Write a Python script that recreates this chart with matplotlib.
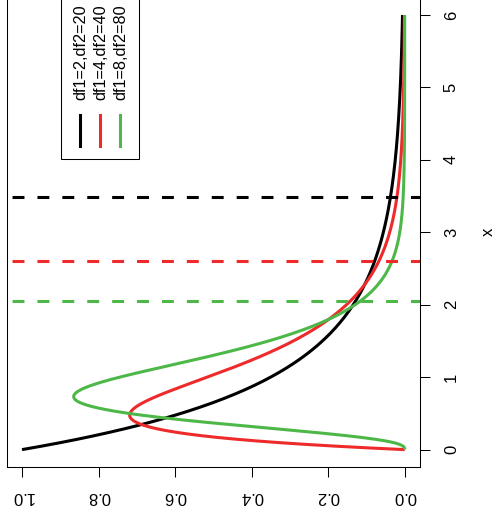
import math
import numpy as np
import matplotlib
matplotlib.use("Agg")
import matplotlib.pyplot as plt
from matplotlib.patches import Rectangle
from matplotlib.lines import Line2D

plt.rcParams["font.family"] = ["Liberation Sans", "DejaVu Sans"]

# F distributions shown (df1, df2), colours and their 95% quantiles
df1_vals = [2, 4, 8]
df2_vals = [20, 40, 80]
colores = ["#000000", "#EE2A2A", "#4DB848"]
etiquetas = ["df1=2,df2=20", "df1=4,df2=40", "df1=8,df2=80"]
cuantiles_95 = [3.4928, 2.6060, 2.0556]

x_ticks = [0, 1, 2, 3, 4, 5, 6]
dens_ticks = [0.0, 0.2, 0.4, 0.6, 0.8, 1.0]

x = np.linspace(0, 6, 501)


def densidad_f(x, d1, d2):
    logc = (math.lgamma((d1 + d2) / 2) - math.lgamma(d1 / 2) - math.lgamma(d2 / 2)
            + (d1 / 2) * math.log(d1 / d2))
    return math.exp(logc) * np.power(x, d1 / 2 - 1) * np.power(1 + d1 * x / d2, -(d1 + d2) / 2)


fig = plt.figure(figsize=(4.94, 5.18), dpi=100)
W, H = 494, 518
izq, der, arr, aba = 6.7, 420.0, -2.4, 467.0
ax = fig.add_axes([izq / W, 1 - aba / H, (der - izq) / W, (aba - arr) / H])

lw = 2.2
for d1, d2, c in zip(df1_vals, df2_vals, colores):
    ax.plot(densidad_f(x, d1, d2), x, color=c, lw=lw, solid_capstyle="butt")

for q, c in zip(cuantiles_95, colores):
    ax.axhline(q, color=c, lw=lw, linestyle=(6.5, (3.9, 4.25)), dash_capstyle="butt")

ax.set_xlim(1.04, -0.04)
ax.set_ylim(-0.24, 6.24)

# ejes (rotados 90 grados)
ax.set_xticks(dens_ticks)
ax.set_xticklabels([f"{v:.1f}" for v in dens_ticks], rotation=180, fontsize=12)
ax.yaxis.tick_right()
ax.set_yticks(x_ticks)
ax.set_yticklabels([str(v) for v in x_ticks], rotation=90, fontsize=12, va="center")
ax.tick_params(axis="x", length=7.2, width=0.75, pad=9)
ax.tick_params(axis="y", length=7.2, width=0.75, pad=10)
for s in ax.spines.values():
    s.set_linewidth(0.75)

ax.yaxis.set_label_position("right")
ax.set_ylabel("x", fontsize=12, rotation=90)
ax.yaxis.set_label_coords(1.146, 0.5)

# leyenda
ax_w, ax_h = der - izq, aba - arr
def fx(px):
    return (px - izq) / ax_w
def fy(py):
    return (aba - py) / ax_h

ax.add_patch(Rectangle((fx(60.7), fy(159)), fx(139) - fx(60.7), 1.05 - fy(159),
                       transform=ax.transAxes, facecolor="white", edgecolor="black",
                       lw=0.75, clip_on=False, zorder=5))
for i, (c, et) in enumerate(zip(colores, etiquetas)):
    px = 80 + 20 * i
    ax.add_line(Line2D([fx(px), fx(px)], [fy(146), fy(115)], transform=ax.transAxes,
                       color=c, lw=lw, zorder=6, clip_on=False))
    ax.text(fx(px + 1), fy(100), et, transform=ax.transAxes, rotation=90,
            ha="center", va="bottom", fontsize=11.7, zorder=6)

fig.savefig("out.png", dpi=100)
